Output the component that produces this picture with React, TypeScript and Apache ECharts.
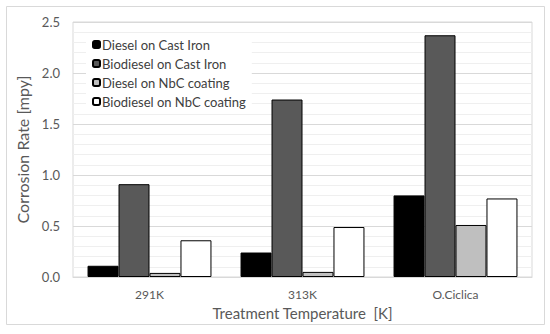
import React, { useEffect, useRef } from "react";
import * as echarts from "echarts";

const categories = ["291K", "313K", "O.Ciclica"];
const seriesNames = [
  "Diesel on Cast Iron",
  "Biodiesel on Cast Iron",
  "Diesel on NbC coating",
  "Biodiesel on NbC coating",
];
const dieselCastIron = [0.11, 0.24, 0.8];
const biodieselCastIron = [0.91, 1.74, 2.37];
const dieselNbC = [0.04, 0.05, 0.51];
const biodieselNbC = [0.36, 0.49, 0.77];
const seriesColors = ["#000000", "#595959", "#bfbfbf", "#ffffff"];

const FONT = "Lato";

export default function App() {
  const ref = useRef<HTMLDivElement>(null);
  useEffect(() => {
    if (!ref.current) return;
    const chart = echarts.init(ref.current, undefined, { renderer: "svg" });
    const values = [dieselCastIron, biodieselCastIron, dieselNbC, biodieselNbC];
    chart.setOption({
      animation: false,
      backgroundColor: "#ffffff",
      textStyle: { fontFamily: FONT },
      graphic: [
        {
          type: "rect",
          shape: { x: 6.5, y: 6.5, width: 538, height: 318 },
          style: { fill: "none", stroke: "#d9d9d9", lineWidth: 1 },
          silent: true,
        },
      ],
      grid: {
        left: 73,
        top: 22,
        right: 18,
        bottom: 57,
        show: true,
        borderColor: "#d9d9d9",
        borderWidth: 1,
      },
      legend: {
        orient: "vertical",
        left: 86,
        top: 35,
        backgroundColor: "#ffffff",
        padding: [3, 6, 3, 6],
        itemWidth: 7,
        itemHeight: 7,
        itemGap: 6,
        textStyle: { fontFamily: FONT, fontSize: 13, color: "#404040", padding: [0, 0, 0, -3] },
        data: seriesNames,
      },
      xAxis: {
        type: "category",
        data: categories,
        axisTick: { show: false },
        axisLine: { lineStyle: { color: "#d9d9d9" } },
        axisLabel: { color: "#595959", fontSize: 12, margin: 11, fontFamily: FONT },
        name: "Treatment Temperature  [K]",
        nameLocation: "middle",
        nameGap: 28,
        nameTextStyle: { fontSize: 15, color: "#595959", fontFamily: FONT },
      },
      yAxis: {
        type: "value",
        min: 0,
        max: 2.5,
        interval: 0.5,
        axisLine: { show: false },
        axisTick: { show: false },
        axisLabel: {
          color: "#595959",
          fontSize: 13,
          margin: 13,
          fontFamily: FONT,
          formatter: (v: number) => v.toFixed(1),
        },
        splitLine: { lineStyle: { color: "#d9d9d9", width: 1 } },
        minorTick: { show: false, splitNumber: 5 },
        minorSplitLine: { show: true, lineStyle: { color: "#efefef", width: 1 } },
        name: "Corrosion Rate [mpy]",
        nameLocation: "middle",
        nameGap: 28,
        nameTextStyle: { fontSize: 16, color: "#595959", fontFamily: FONT },
      },
      series: seriesNames.map((name, i) => ({
        name,
        type: "bar",
        data: values[i],
        barGap: "0%",
        barCategoryGap: "19%",
        itemStyle: { color: seriesColors[i], borderColor: "#000000", borderWidth: 1 },
      })),
    });
    return () => chart.dispose();
  }, []);
  return (
    <div
      ref={ref}
      style={{ position: "fixed", left: 0, top: 0, width: 550, height: 334 }}
    />
  );
}
